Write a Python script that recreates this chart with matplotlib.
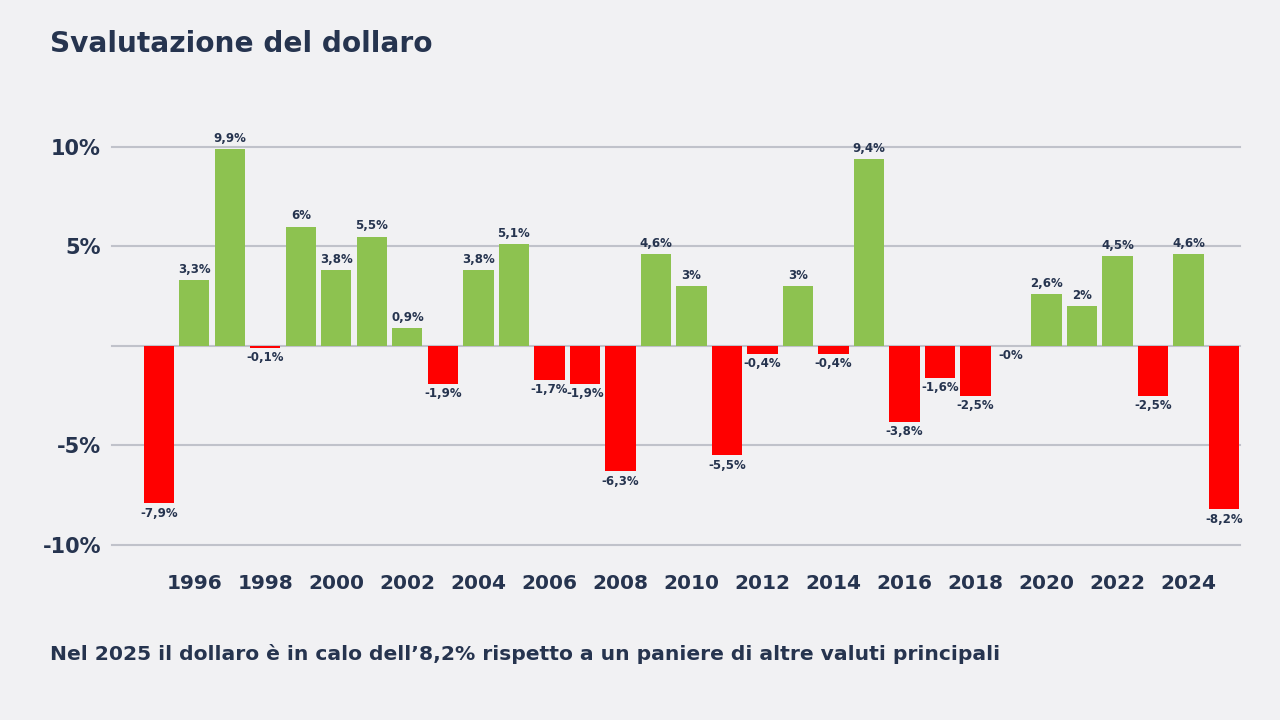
import numpy as np
import matplotlib
matplotlib.use("Agg")
import matplotlib.pyplot as plt

# dati: variazione annua del dollaro (%)
anni = list(range(1995, 2026))
valori = [-7.9, 3.3, 9.9, -0.1, 6.0, 3.8, 5.5, 0.9, -1.9, 3.8,
          5.1, -1.7, -1.9, -6.3, 4.6, 3.0, -5.5, -0.4, 3.0, -0.4,
          9.4, -3.8, -1.6, -2.5, -0.0, 2.6, 2.0, 4.5, -2.5, 4.6, -8.2]
tick_anni = list(range(1996, 2025, 2))
tick_y = [-10, -5, 0, 5, 10]
tick_y_labels = ['-10%', '-5%', '', '5%', '10%']

bg = '#f1f1f3'
testo = '#26344f'
verde = '#8dc250'
rosso = '#ff0000'
griglia = '#c0c2ca'

plt.rcParams['font.family'] = ['DejaVu Sans']
plt.rcParams['font.weight'] = 'bold'

fig = plt.figure(figsize=(12.8, 7.2), dpi=100, facecolor=bg)
ax = fig.add_axes([112 / 1280, 1 - 545 / 720, (1240 - 112) / 1280, (545 - 100) / 720])
ax.set_facecolor(bg)

colori = [verde if v > 0 else rosso for v in valori]
ax.bar(anni, valori, width=0.85, color=colori, zorder=3)

for a, v in zip(anni, valori):
    lab = f"{v:g}".replace('.', ',') + '%'
    if v > 0:
        ax.annotate(lab, (a, v), xytext=(0, 3), textcoords='offset points',
                    ha='center', va='bottom', fontsize=8.5, color=testo, fontweight='bold')
    else:
        ax.annotate(lab, (a, v), xytext=(0, -2.5), textcoords='offset points',
                    ha='center', va='top', fontsize=8.5, color=testo, fontweight='bold')

ax.set_xlim(1993.68, 2025.45)
ax.set_ylim(-10, 12.36)
ax.set_yticks(tick_y)
ax.set_yticklabels(tick_y_labels)
ax.set_xticks(tick_anni)
ax.set_xticklabels([str(t) for t in tick_anni])
for y in tick_y:
    ax.axhline(y, color=griglia, linewidth=1.5, zorder=1, clip_on=False)

ax.tick_params(axis='y', length=0, pad=8, labelsize=15, labelcolor=testo)
ax.tick_params(axis='x', length=0, pad=21, labelsize=14.5, labelcolor=testo)
for s in ax.spines.values():
    s.set_visible(False)

fig.text(50 / 1280, 1 - 44 / 720, 'Svalutazione del dollaro', fontsize=20.2,
         fontweight='bold', color=testo, va='center', ha='left')
fig.text(50 / 1280, 1 - 654 / 720,
         'Nel 2025 il dollaro è in calo dell’8,2% rispetto a un paniere di altre valuti principali',
         fontsize=14.6, fontweight='bold', color=testo, va='center', ha='left')

fig.savefig('out.png', dpi=100, facecolor=bg)
